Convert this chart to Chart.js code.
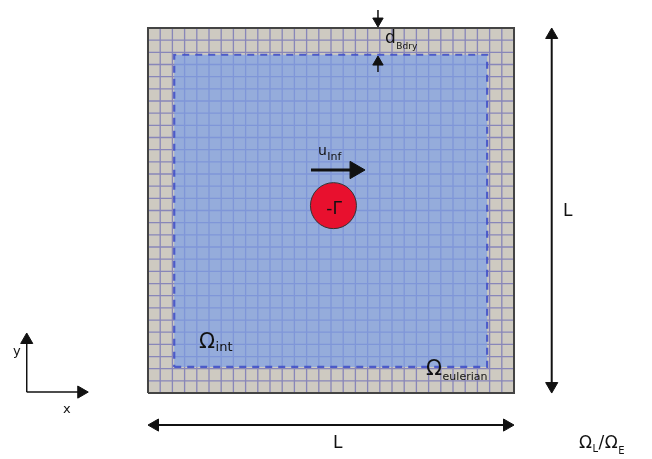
<!DOCTYPE html>
<html><head><meta charset="utf-8">
<script src="https://cdn.jsdelivr.net/npm/chart.js@4/dist/chart.umd.min.js"></script>
<style>html,body{margin:0;padding:0;background:#fff}#wrap{width:652px;height:459px}</style>
</head><body><div id="wrap"><canvas id="c" width="652" height="459"></canvas></div>
<script>
// ---- data (units: grid cells; domain side L = 30 cells) ----
const cellCount = 30;
const domainCorners = [[0,0],[30,0],[30,30],[0,30],[0,0]];
const interiorCorners = [[2.15,2.15],[27.8,2.15],[27.8,27.8],[2.15,27.8],[2.15,2.15]];
const vortexCenter = [15.2, 15.4];
const uInfArrow = [[13.36,18.33],[16.97,18.33]];
const lengthArrowV = [[33.09,0.575],[33.09,29.425]];
const lengthArrowH = [[0.574,-2.63],[29.426,-2.63]];
const bdryArrowTop = [[18.85,31.48],[18.85,30.57]];
const bdryArrowBottom = [[18.85,26.38],[18.85,27.20]];
const axisY = [[-9.94,0.08],[-9.94,4.36]];
const axisX = [[-9.94,0.08],[-5.47,0.08]];

const toPts = a => a.map(p => ({x:p[0], y:p[1]}));

// grid lines (every cell)
const gridPts = [];
for (let i = 1; i < cellCount; i++) {
  gridPts.push({x:i,y:0},{x:i,y:cellCount},{x:null,y:null});
  gridPts.push({x:0,y:i},{x:cellCount,y:i},{x:null,y:null});
}

const labels = [
  {x:19.43, y:28.77, pieces:[{t:'d',s:17},{t:'Bdry',s:9,dy:6}]},
  {x:13.93, y:19.56, pieces:[{t:'u',s:14},{t:'Inf',s:11,dy:5}]},
  {x:15.25, y:14.75, align:'center', pieces:[{t:'-Γ',s:17}]},
  {x:4.18, y:3.70, pieces:[{t:'Ω',s:21},{t:'int',s:13,dy:3}]},
  {x:22.79, y:1.48, pieces:[{t:'Ω',s:21},{t:'eulerian',s:11,dy:5}]},
  {x:35.33, y:-4.52, pieces:[{t:'Ω',s:17},{t:'L',s:10,dy:4},{t:'/',s:17},{t:'Ω',s:17},{t:'E',s:10,dy:6}]},
  {x:34.02, y:14.55, pieces:[{t:'L',s:17}]},
  {x:15.16, y:-4.52, pieces:[{t:'L',s:17}]},
  {x:-11.07, y:3.12, pieces:[{t:'y',s:13}]},
  {x:-6.97, y:-1.64, pieces:[{t:'x',s:13}]}
];

const textPlugin = {
  id:'texts',
  afterDatasetsDraw(chart){
    const ctx = chart.ctx, xs = chart.scales.x, ys = chart.scales.y;
    ctx.save();
    ctx.fillStyle = '#111';
    ctx.textBaseline = 'alphabetic';
    for (const l of labels) {
      let px = xs.getPixelForValue(l.x), py = ys.getPixelForValue(l.y);
      if (l.align === 'center') {
        let w = 0;
        for (const p of l.pieces) { ctx.font = p.s + 'px "DejaVu Sans"'; w += ctx.measureText(p.t).width; }
        px -= w/2;
      }
      for (const p of l.pieces) {
        ctx.font = p.s + 'px "DejaVu Sans"';
        ctx.fillText(p.t, px, py + (p.dy||0));
        px += ctx.measureText(p.t).width + 0.5;
      }
    }
    ctx.restore();
  }
};

function arrow(pts, radii, rots, width) {
  return {type:'line', data:toPts(pts), showLine:true, borderColor:'#111', borderWidth:width,
    pointStyle:'triangle', pointRadius:radii, pointRotation:rots,
    pointBackgroundColor:'#111', pointBorderColor:'#111', pointBorderWidth:1, fill:false, order:1};
}

new Chart(document.getElementById('c'), {
  type:'scatter',
  data:{datasets:[
    {type:'scatter', data:toPts([vortexCenter]), pointRadius:23, pointBackgroundColor:'#e8102e',
      pointBorderColor:'#333', pointBorderWidth:1, order:0},
    arrow(uInfArrow,[0,10],[0,90],3),
    arrow(lengthArrowV,[7,7],[180,0],2),
    arrow(lengthArrowH,[7,7],[270,90],2),
    arrow(bdryArrowTop,[0,6],[0,180],1.5),
    arrow(bdryArrowBottom,[0,6],[0,0],1.5),
    arrow(axisY,[0,7],[0,0],1.5),
    arrow(axisX,[0,7],[0,90],1.5),
    {type:'line', data:toPts(domainCorners), showLine:true, borderColor:'#444', borderWidth:2,
      pointRadius:0, fill:false, order:5},
    {type:'line', data:toPts(interiorCorners), showLine:true, borderColor:'rgba(65,80,200,0.9)', borderWidth:2.2,
      borderDash:[7,6], pointRadius:0, fill:false, order:6},
    {type:'line', data:toPts(interiorCorners), showLine:true, borderWidth:0, borderColor:'rgba(0,0,0,0)',
      backgroundColor:'rgba(122,158,232,0.68)', pointRadius:0, fill:'shape', order:7},
    {type:'line', data:gridPts, showLine:true, spanGaps:false, borderColor:'rgba(50,50,175,0.45)', borderWidth:1.3,
      pointRadius:0, fill:false, order:8},
    {type:'line', data:toPts(domainCorners), showLine:true, borderWidth:0, borderColor:'rgba(0,0,0,0)',
      backgroundColor:'rgb(206,202,193)', pointRadius:0, fill:'shape', order:9}
  ]},
  options:{
    responsive:false, animation:false, events:[],
    layout:{padding:0, autoPadding:false},
    plugins:{legend:{display:false}, tooltip:{enabled:false}},
    scales:{
      x:{type:'linear', min:-12.13, max:41.31, display:false},
      y:{type:'linear', min:-5.42, max:32.30, display:false}
    }
  },
  plugins:[textPlugin]
});
</script></body></html>
